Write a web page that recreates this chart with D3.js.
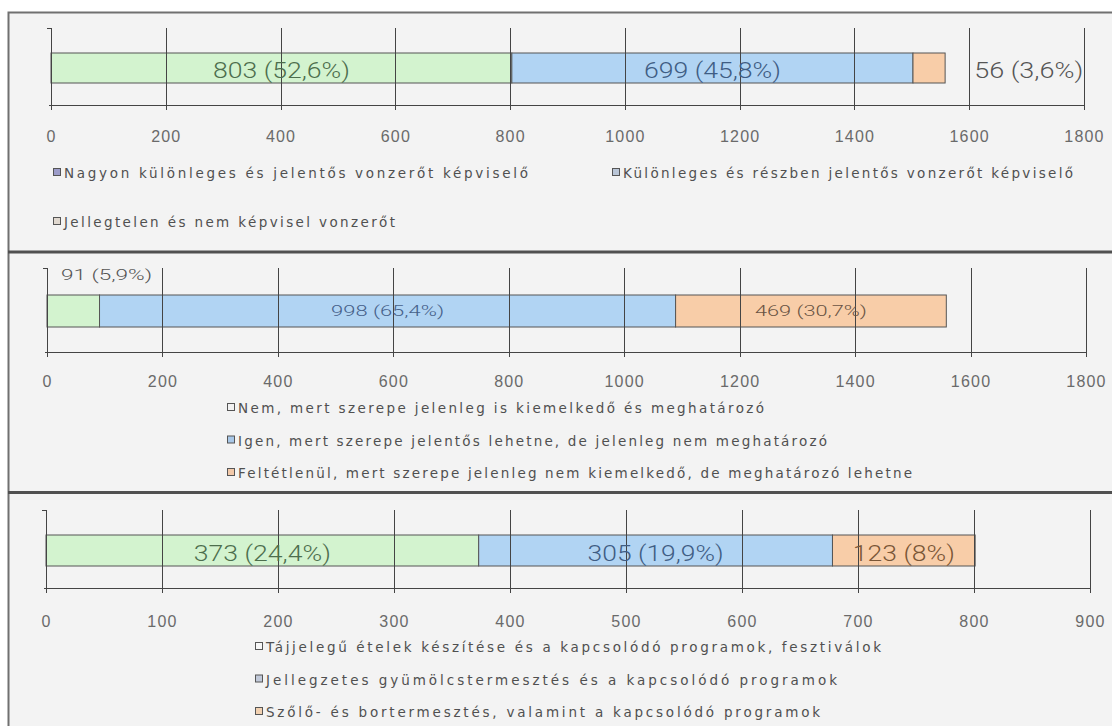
<!DOCTYPE html>
<html><head><meta charset="utf-8">
<script src="https://cdn.jsdelivr.net/npm/d3@7"></script>
<style>body{margin:0;background:#fff;} svg{display:block;}</style>
</head><body><svg id="c" width="1112" height="726"></svg>
<script>
// ---------- DATA ----------
const p1Categories = ["Nagyon különleges és jelentős vonzerőt képviselő", "Különleges és részben jelentős vonzerőt képviselő", "Jellegtelen és nem képvisel vonzerőt"];
const p1Values = [803, 699, 56];
const p1Labels = ["803 (52,6%)", "699 (45,8%)", "56 (3,6%)"];
const p1Ticks = [0, 200, 400, 600, 800, 1000, 1200, 1400, 1600, 1800];

const p2Categories = ["Nem, mert szerepe jelenleg is kiemelkedő és meghatározó", "Igen, mert szerepe jelentős lehetne, de jelenleg nem meghatározó", "Feltétlenül, mert szerepe jelenleg nem kiemelkedő, de meghatározó lehetne"];
const p2Values = [91, 998, 469];
const p2Labels = ["91 (5,9%)", "998 (65,4%)", "469 (30,7%)"];
const p2Ticks = [0, 200, 400, 600, 800, 1000, 1200, 1400, 1600, 1800];

const p3Categories = ["Tájjelegű ételek készítése és a kapcsolódó programok, fesztiválok", "Jellegzetes gyümölcstermesztés és a kapcsolódó programok", "Szőlő- és bortermesztés, valamint a kapcsolódó programok"];
const p3Values = [373, 305, 123];
const p3Labels = ["373 (24,4%)", "305 (19,9%)", "123 (8%)"];
const p3Ticks = [0, 100, 200, 300, 400, 500, 600, 700, 800, 900];

// ---------- STYLE / LAYOUT ----------
const barFills = ["#d3f3cf", "#b1d4f3", "#f8cda8"];
const labelFont = "Roboto, 'Liberation Sans', Arial, sans-serif";
const svg = d3.select("#c");

// frame
svg.append("rect").attr("x", 8.5).attr("y", 12.5).attr("width", 1120).attr("height", 730)
  .attr("fill", "#f3f3f3").attr("stroke", "#707070").attr("stroke-width", 2);
[252, 492.5].forEach(y => svg.append("line").attr("x1", 8).attr("x2", 1112).attr("y1", y).attr("y2", y)
  .attr("stroke", "#505050").attr("stroke-width", 3));

const panels = [
  { values: p1Values, labels: p1Labels, ticks: p1Ticks, cats: p1Categories,
    r0: 51, r1: 1084, gridTop: 28, barTop: 53, barH: 30, axisY: 105, tickBase: 141.5,
    labelCfg: [
      { mode: "center", base: 78, size: 22, w: 137, color: "#4d6e4d" },
      { mode: "center", base: 78, size: 22, w: 137, color: "#3f5d84" },
      { mode: "tick", tickVal: 1600, dx: 5, base: 78, size: 22, w: 109, color: "#555" }
    ],
    legend: [
      { x: 53, y: 178, w: 475, fill: "#9c9cc9" },
      { x: 612, y: 178, w: 461, fill: "#b9c5d6" },
      { x: 53, y: 227, w: 342, fill: "#e0d8cf" }
    ] },
  { values: p2Values, labels: p2Labels, ticks: p2Ticks, cats: p2Categories,
    r0: 47, r1: 1086, gridTop: 268, barTop: 295, barH: 32, axisY: 352, tickBase: 386.5,
    labelCfg: [
      { mode: "tick", tickVal: 0, dx: 14, base: 280, size: 14, w: 91, color: "#555" },
      { mode: "center", base: 316, size: 14, w: 113, color: "#46618a" },
      { mode: "center", base: 316, size: 14, w: 112, color: "#6a5444" }
    ],
    legend: [
      { x: 227, y: 413, w: 537, fill: "#f2f2f2" },
      { x: 227, y: 445.5, w: 600, fill: "#a9c8e8" },
      { x: 227, y: 478, w: 685, fill: "#f2c9a9" }
    ] },
  { values: p3Values, labels: p3Labels, ticks: p3Ticks, cats: p3Categories,
    r0: 46, r1: 1090, gridTop: 510, barTop: 535, barH: 31, axisY: 588, tickBase: 626.5,
    labelCfg: [
      { mode: "center", base: 561, size: 22, w: 137, color: "#4d6e4d" },
      { mode: "center", base: 561, size: 22, w: 136, color: "#3f5d84" },
      { mode: "center", base: 561, size: 22, w: 102, color: "#7a5636" }
    ],
    legend: [
      { x: 255, y: 652, w: 626, fill: "#f7f7f7" },
      { x: 255, y: 684.5, w: 582, fill: "#c1c9d9" },
      { x: 255, y: 717, w: 565, fill: "#f2d1b1" }
    ] }
];

panels.forEach(p => {
  const g = svg.append("g");
  const x = d3.scaleLinear().domain([0, d3.max(p.ticks)]).range([p.r0, p.r1]);
  let acc = 0;
  const segs = p.values.map((v, i) => { const s = { start: acc, end: acc + v, i }; acc += v; return s; });

  g.selectAll("rect.bar").data(segs).join("rect").attr("class", "bar")
    .attr("x", d => x(d.start)).attr("y", p.barTop)
    .attr("width", d => x(d.end) - x(d.start)).attr("height", p.barH)
    .attr("fill", d => barFills[d.i]).attr("stroke", "#555").attr("stroke-width", 1);

  g.selectAll("line.grid").data(p.ticks).join("line").attr("class", "grid")
    .attr("x1", d => Math.round(x(d)) + 0.5).attr("x2", d => Math.round(x(d)) + 0.5)
    .attr("y1", p.gridTop).attr("y2", p.axisY + 5)
    .attr("stroke", "#444").attr("stroke-width", 1);
  g.append("line").attr("x1", Math.round(x(0)) - 4).attr("x2", Math.round(x(0)) + 0.5)
    .attr("y1", p.gridTop + 0.5).attr("y2", p.gridTop + 0.5).attr("stroke", "#444");

  const axis = d3.axisBottom(x).tickValues(p.ticks).tickSize(0).tickFormat(d3.format("d"));
  const ag = g.append("g").attr("transform", `translate(0,${p.axisY + 0.5})`).call(axis);
  ag.select(".domain").attr("stroke", "#444").attr("d", `M${x(0) - 2},0H${x(d3.max(p.ticks))}`);
  ag.selectAll("text").attr("y", p.tickBase - p.axisY).attr("dy", 0)
    .attr("font-family", "'Liberation Sans', Arial, sans-serif").attr("font-size", 16)
    .attr("letter-spacing", 1.2).attr("fill", "#6a6a6a");

  segs.forEach((s, i) => {
    const c = p.labelCfg[i];
    let tx;
    if (c.mode === "center") { tx = (x(s.start) + x(s.end)) / 2 - c.w / 2; }
    else { tx = x(c.tickVal) + c.dx; }
    g.append("text").attr("x", tx).attr("y", c.base)
      .attr("font-family", labelFont).attr("font-weight", 300).attr("font-size", c.size)
      .attr("fill", c.color).attr("textLength", c.w).attr("lengthAdjust", "spacingAndGlyphs")
      .text(p.labels[i]);
  });

  p.legend.forEach((l, i) => {
    g.append("rect").attr("x", l.x + 0.5).attr("y", l.y - 9.5).attr("width", 7).attr("height", 7)
      .attr("fill", l.fill).attr("stroke", "#555").attr("stroke-width", 1);
    g.append("text").attr("x", l.x + 11).attr("y", l.y)
      .attr("font-family", "'DejaVu Sans', Verdana, sans-serif").attr("font-size", 13.5)
      .attr("fill", "#505050").attr("textLength", l.w - 11).attr("lengthAdjust", "spacing")
      .text(p.cats[i]);
  });
});
</script></body></html>
